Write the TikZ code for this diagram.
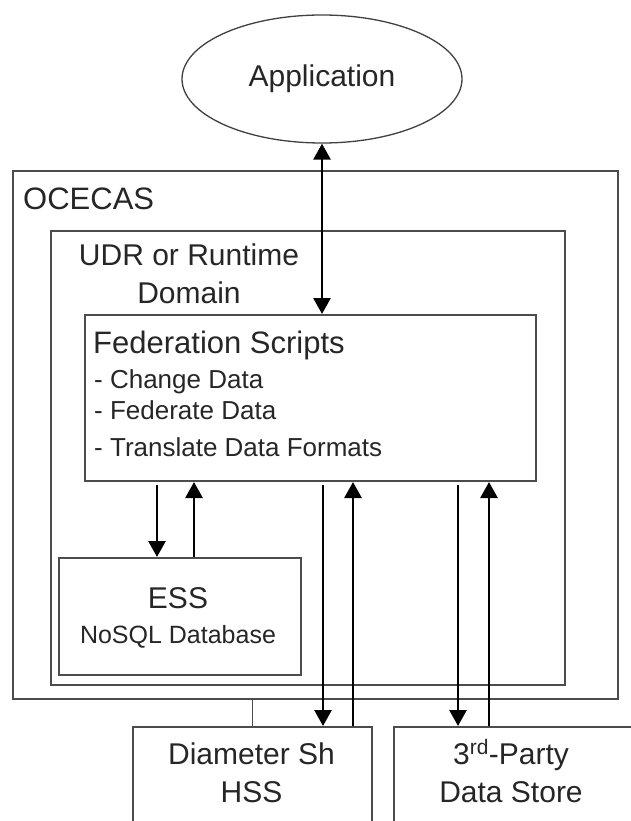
\documentclass[tikz,border=0pt]{standalone}
\usepackage{fontspec}
\setmainfont{Liberation Sans}
\usetikzlibrary{arrows.meta,shapes.geometric}
\tikzset{
  box/.style={draw=black!70, line width=2pt, anchor=north west, inner sep=0pt},
  txt/.style={text=black!85, inner sep=0pt},
  flow/.style={line width=2.8pt, ->},
  >={Triangle[length=16pt,width=17pt]}
}
\begin{document}
\begin{tikzpicture}[x=1pt, y=-1pt]
  \clip (0,0) rectangle (631,821);
  \node[ellipse, draw=black!75, line width=1.3pt, minimum width=280pt, minimum height=128pt,
    inner sep=0pt, text=black!85, font=\fontsize{30}{36}\selectfont] (app) at (322,79) {Application};
  % containers
  \node[box, minimum width=605pt, minimum height=528pt] (ocecas) at (12,170) {};
  \node[box, minimum width=514pt, minimum height=454pt] (udr) at (50,230) {};
  \node[box, minimum width=451pt, minimum height=166pt] (fed) at (84,314) {};
  \node[box, minimum width=242pt, minimum height=117pt] (ess) at (58,557) {};
  \node[box, minimum width=239pt, minimum height=140pt] (hss) at (132,726) {};
  \node[box, minimum width=260pt, minimum height=140pt] (store) at (393,726) {};
  % texts (base of a multi-line node = its last line)
  \node[txt, anchor=base west, font=\fontsize{31}{37}\selectfont] (ocecasname) at (23,209) {OCECAS};
  \node[txt, anchor=base, align=center, font=\fontsize{30}{38}\selectfont] (udrname) at (189,303) {UDR or Runtime\\Domain};
  \node[txt, anchor=base west, font=\fontsize{31}{37}\selectfont] (fedname) at (93,353) {Federation Scripts};
  \node[txt, anchor=base west, align=left, font=\fontsize{26}{31}\selectfont] (fedlist) at (94,456)
    {- Change Data\\- Federate Data\\[6pt]- Translate Data Formats};
  \node[txt, anchor=base, font=\fontsize{30}{36}\selectfont] (essname) at (178,608) {ESS};
  \node[txt, anchor=base, font=\fontsize{25}{30}\selectfont] (esstype) at (178,643) {NoSQL Database};
  \node[txt, anchor=base, align=center, font=\fontsize{30}{38}\selectfont] (hssname) at (251.5,802) {Diameter Sh\\HSS};
  \node[txt, anchor=base, align=center, font=\fontsize{30}{38}\selectfont] (storename) at (511,802) {3\textsuperscript{rd}-Party\\Data Store};
  % connectors
  \draw[flow, <->] (app.south) -- (app.south |- fed.north);
  \foreach \nm/\dx in {e1/73, e2/110, h1/239, h2/269, s1/374, s2/405}
    \coordinate (\nm) at ([xshift=\dx pt]fed.south west);
  \draw[flow, shorten <=3pt] (e1) -- (e1 |- ess.north);
  \draw[flow] (e2 |- ess.north) -- (e2);
  \draw[flow, shorten <=3pt] (h1) -- (h1 |- hss.north);
  \draw[flow] (h2 |- hss.north) -- (h2);
  \draw[flow, shorten <=3pt] (s1) -- (s1 |- store.north);
  \draw[flow] (s2 |- store.north) -- (s2);
  \draw[draw=black!70, line width=1.8pt] (hss.north) -- (hss.north |- ocecas.south);
\end{tikzpicture}
\end{document}
